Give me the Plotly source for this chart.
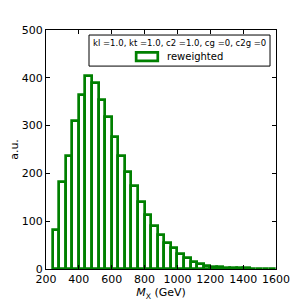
import plotly.graph_objects as go

bin_edges_start = 240
bin_width = 40
counts = [82, 182, 236, 310, 363, 404, 389, 354, 317, 276, 236, 202, 173, 141, 113,
          90, 72, 55, 43, 31, 22, 15, 10, 7, 5, 4, 3, 2, 2, 1.5, 1, 1, 0.7, 0.5]
centers = [bin_edges_start + bin_width * (i + 0.5) for i in range(len(counts))]
legend_title = "kl =1.0, kt =1.0, c2 =1.0, cg =0, c2g =0"
series_name = "reweighted"
x_ticks = [200, 400, 600, 800, 1000, 1200, 1400, 1600]
y_ticks = [0, 100, 200, 300, 400, 500]

fig = go.Figure()
fig.add_trace(go.Bar(
    x=centers, y=counts, width=bin_width, name=series_name,
    marker=dict(color="white", line=dict(color="green", width=2.7)),
    showlegend=False,
))

font = "DejaVu Sans, sans-serif"
axis_common = dict(showline=True, linecolor="black", linewidth=1, mirror="ticks",
                   ticks="inside", ticklen=4, tickcolor="black", showgrid=False,
                   zeroline=False, automargin=False,
                   tickfont=dict(size=11, color="black", family=font))

# legend box drawn by hand
fig.add_shape(type="rect", xref="paper", yref="paper", x0=0.187, x1=0.974, y0=0.849, y1=0.979,
              line=dict(color="black", width=1), fillcolor="white", layer="above")
fig.add_shape(type="rect", xref="paper", yref="paper", x0=0.392, x1=0.486, y0=0.871, y1=0.906,
              line=dict(color="green", width=2.7), fillcolor="white", layer="above")
fig.add_annotation(text=legend_title, xref="paper", yref="paper", x=0.580, y=0.946,
                   showarrow=False, xanchor="center", yanchor="middle",
                   font=dict(size=8.5, family=font, color="black"))
fig.add_annotation(text=series_name, xref="paper", yref="paper", x=0.518, y=0.889,
                   showarrow=False, xanchor="left", yanchor="middle",
                   font=dict(size=10, family=font, color="black"))

fig.update_layout(
    width=299, height=299,
    margin=dict(l=38, r=31, t=22, b=38),
    plot_bgcolor="white", paper_bgcolor="white",
    font=dict(family=font, color="black"),
    bargap=0,
    showlegend=False,
    xaxis=dict(range=[200, 1600], tickvals=x_ticks, **axis_common,
               title=dict(text="<i>M</i><sub>X</sub> (GeV)", font=dict(size=11), standoff=2)),
    yaxis=dict(range=[0, 500], tickvals=y_ticks, **axis_common,
               title=dict(text="a.u.", font=dict(size=11), standoff=10)),
)
fig.write_html("out.html")
